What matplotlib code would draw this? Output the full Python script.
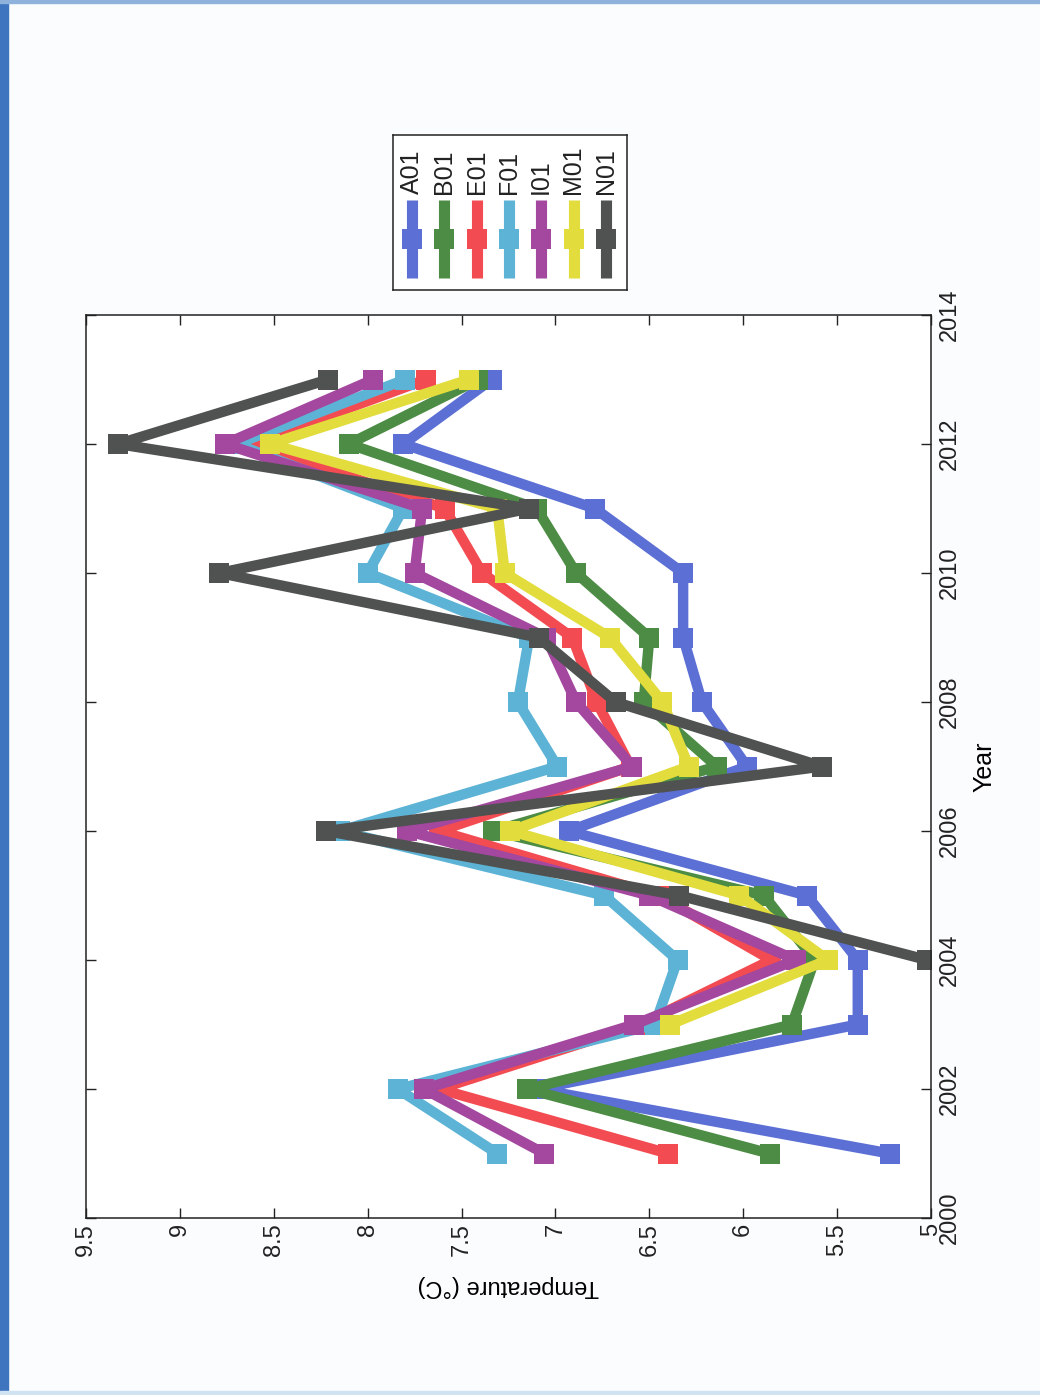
import matplotlib.pyplot as plt
from matplotlib.patches import Rectangle
import numpy as np

# Du lieu doc tu hinh (nhiet do trung binh nam, do C)
years = [2001, 2002, 2003, 2004, 2005, 2006, 2007, 2008, 2009, 2010, 2011, 2012, 2013]
station_names = ['A01', 'B01', 'E01', 'F01', 'I01', 'M01', 'N01']
nan = np.nan
A01 = [5.22, 7.10, 5.39, 5.39, 5.66, 6.93, 5.98, 6.22, 6.32, 6.32, 6.79, 7.81, 7.34]
B01 = [5.86, 7.15, 5.74, 5.62, 5.89, 7.33, 6.14, 6.53, 6.50, 6.89, 7.10, 8.10, 7.41]
E01 = [6.40, 7.62, 6.55, 5.85, 6.45, 7.62, 6.60, 6.78, 6.91, 7.39, 7.59, 8.62, 7.69]
F01 = [7.31, 7.84, 6.47, 6.35, 6.74, 8.15, 6.99, 7.20, 7.14, 8.00, 7.81, 8.70, 7.80]
I01 = [7.06, 7.70, 6.58, 5.72, 6.50, 7.79, 6.59, 6.89, 7.05, 7.75, 7.71, 8.76, 7.97]
M01 = [nan, nan, 6.39, 5.55, 6.02, 7.24, 6.29, 6.43, 6.71, 7.27, 7.31, 8.52, 7.46]
N01 = [nan, nan, nan, 5.02, 6.34, 8.22, 5.58, 6.68, 7.09, 8.79, 7.14, 9.33, 8.21]
series = [A01, B01, E01, F01, I01, M01, N01]

temp_ticks = [9.5, 9, 8.5, 8, 7.5, 7, 6.5, 6, 5.5, 5]
year_ticks = [2000, 2002, 2004, 2006, 2008, 2010, 2012, 2014]

colors = ['#5b6fd4', '#4c8c44', '#f24c52', '#5db3d6', '#a3479f', '#e2dc3c', '#4f5250']

plt.rcParams['font.family'] = ['Liberation Sans', 'DejaVu Sans']

W, H = 1040, 1395
fig = plt.figure(figsize=(W / 100, H / 100), dpi=100)
fig.patch.set_facecolor('#fbfcfd')

# vien xanh cua ban scan
fig.add_artist(Rectangle((0, 0), 8 / W, 1, transform=fig.transFigure,
                         color='#3f74bf', zorder=0))
fig.add_artist(Rectangle((0, 1 - 3 / H), 1, 3 / H, transform=fig.transFigure,
                         color='#8fb2dd', zorder=0))
fig.add_artist(Rectangle((0, 0), 1, 4 / H, transform=fig.transFigure,
                         color='#cfe3f3', zorder=0))

# --- Bieu do chinh (xoay 90 do: nhiet do nam ngang, nam theo chieu doc) ---
ax = fig.add_axes([86 / W, (H - 1218) / H, 845 / W, 903 / H])
ax.set_facecolor('white')
for name, vals, c in zip(station_names, series, colors):
    ax.plot(vals, years, color=c, linewidth=7.5, marker='s', markersize=14,
            markeredgewidth=0, label=name, solid_joinstyle='round')

ax.set_xlim(9.5, 5)
ax.set_ylim(2000, 2014)
ax.set_xticks(temp_ticks)
ax.set_xticklabels([f'{t:g}' for t in temp_ticks], rotation=90)
ax.set_yticks(year_ticks)
ax.set_yticklabels([str(y) for y in year_ticks], rotation=90, va='center')
ax.tick_params(axis='both', direction='in', length=7, width=1, labelsize=17,
               top=True, right=True, left=True, bottom=True,
               labelleft=False, labelright=True, colors='#222222')
ax.tick_params(axis='y', pad=6)
ax.set_xlabel('Temperature (°C)', fontsize=17, rotation=180, labelpad=14)
ax.yaxis.set_label_position('right')
ax.set_ylabel('Year', fontsize=18, rotation=90, labelpad=8)
for s in ax.spines.values():
    s.set_linewidth(1.1)
    s.set_color('#222222')

# --- Chu thich (ve tay, xoay 90 do) ---
lg = fig.add_axes([393 / W, (H - 290) / H, 234 / W, 155 / H])
lg.set_xlim(0, 1)
lg.set_ylim(0, 1)
lg.set_xticks([])
lg.set_yticks([])
lg.set_facecolor('white')
for s in lg.spines.values():
    s.set_linewidth(1.1)
    s.set_color('#222222')
for i, (name, c) in enumerate(zip(station_names, colors)):
    xc = (19 + i * 32.3) / 234
    lg.plot([xc, xc], [0.08, 0.58], color=c, linewidth=8, solid_capstyle='butt')
    lg.plot([xc], [0.33], color=c, marker='s', markersize=15, markeredgewidth=0)
    lg.text(xc, 0.62, name, rotation=90, ha='center', va='bottom', fontsize=18,
            color='#222222')

fig.savefig('out.png', dpi=100, facecolor=fig.get_facecolor())
